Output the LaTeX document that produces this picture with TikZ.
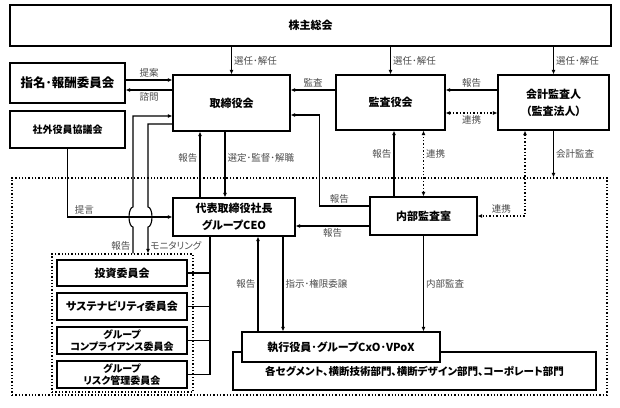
\documentclass[tikz,border=0pt]{standalone}
\usepackage{fontspec}
\setmainfont{Noto Sans CJK JP}[RawFeature=+palt]
\usetikzlibrary{arrows.meta,positioning}

\begin{document}
\begin{tikzpicture}[
    x=1pt, y=-1pt,
    box/.style={rectangle, draw, line width=1.2pt, fill=white, inner sep=1pt, align=center, font=\fontsize{11}{15}\selectfont\bfseries},
    smallbox/.style={box, font=\fontsize{10}{12}\selectfont\bfseries, inner sep=0pt},
    lbl/.style={font=\fontsize{9.5}{10}\selectfont, text=black!70, inner sep=2pt},
    arr/.style={line width=1.1pt, -{Latex[length=4.5pt,width=4pt]}},
    link/.style={line width=1.4pt, dotted, {Latex[length=4.5pt,width=4pt]}-{Latex[length=4.5pt,width=4pt]}},
    plain/.style={line width=1.1pt},
    frame/.style={rectangle, draw, dotted, line width=1.3pt, inner sep=0pt}
  ]
    \useasboundingbox (0,0) rectangle (620,407);

    % Frames
    \node[frame, minimum width=595pt, minimum height=217pt] (grp) at (309.5,286.5) {};
    \node[frame, minimum width=141pt, minimum height=138pt] (cmt) at (122.5,323) {};

    % Nodes
    \node[box, minimum width=601pt, minimum height=41pt] (gm) at (310.5,25.5) {株主総会};
    \node[box, minimum width=115pt, minimum height=40pt, font=\fontsize{12.5}{14}\selectfont\bfseries] (nom) at (67.5,83) {指名･報酬委員会};
    \node[box, minimum width=115pt, minimum height=37pt, font=\fontsize{10}{12}\selectfont\bfseries] (ext) at (67.5,129.5) {社外役員協議会};
    \node[box, minimum width=117pt, minimum height=56pt] (board) at (231.5,103) {取締役会};
    \node[box, minimum width=109pt, minimum height=55pt] (kansa) at (390.5,102.5) {監査役会};
    \node[box, minimum width=111pt, minimum height=55pt, font=\fontsize{11}{17}\selectfont\bfseries] (audit) at (553.5,102.5) {会計監査人\\（監査法人）};
    \node[box, minimum width=122pt, minimum height=38pt, font=\fontsize{11}{17}\selectfont\bfseries] (ceo) at (234,217) {代表取締役社長\\グループCEO};
    \node[box, minimum width=107pt, minimum height=38pt] (iad) at (423.5,216) {内部監査室};

    \node[box, minimum width=130pt, minimum height=26pt] (inv) at (122,273) {投資委員会};
    \node[box, minimum width=130pt, minimum height=27pt] (sus) at (122,306.5) {サステナビリティ委員会};
    \node[smallbox, minimum width=130pt, minimum height=27pt] (comp) at (122,340.5) {グループ\\コンプライアンス委員会};
    \node[smallbox, minimum width=130pt, minimum height=27pt] (risk) at (122,374.5) {グループ\\リスク管理委員会};

    \node[box, minimum width=363pt, minimum height=38pt, font=\fontsize{10.5}{12}\selectfont\bfseries] (seg) at (414.5,371) {各セグメント、横断技術部門、横断デザイン部門、コーポレート部門};
    \node[box, minimum width=198pt, minimum height=30pt] (exec) at (341,347) {執行役員･グループCxO･VPoX};

    % Arrows
    \foreach \n in {board,kansa,audit}
      \draw[arr] (gm.south -| \n.north) -- node[lbl, right]{選任･解任} (\n.north);

    \draw[arr] ([yshift=3pt]nom.east) -- node[lbl, above]{提案} ([yshift=3pt]nom.east -| board.west);
    \draw[arr] ([yshift=13pt]board.west) -- node[lbl, below]{諮問} ([yshift=13pt]board.west -| nom.east);
    \draw[arr] ([yshift=12.5pt]kansa.west) -- node[lbl, above]{監査} ([yshift=12.5pt]kansa.west -| board.east);
    \draw[arr] ([yshift=12.5pt]audit.west) -- node[lbl, above]{報告} ([yshift=12.5pt]audit.west -| kansa.east);
    \draw[link] ([yshift=-10.5pt]kansa.east) -- node[lbl, below]{連携} ([yshift=-10.5pt]kansa.east -| audit.west);

    \draw[arr] ([xshift=-34pt]ceo.north) -- node[lbl, left, pos=0.6]{報告} ([xshift=-34pt]ceo.north |- board.south);
    \draw[arr] ([xshift=-9pt]ceo.north |- board.south) -- node[lbl, right, pos=0.4]{選定･監督･解職} ([xshift=-9pt]ceo.north);

    \draw[arr] ([xshift=-29.5pt]iad.north) -- node[lbl, left, pos=0.65]{報告} ([xshift=-29.5pt]iad.north |- kansa.south);
    \draw[link] (iad.north) -- node[lbl, right, pos=0.65]{連携} (iad.north |- kansa.south);
    \draw[arr] ([yshift=10pt]iad.west) -- node[lbl, above, pos=0.6]{報告} ++(-50,0) |- ([yshift=-12pt]board.east);
    \draw[arr] ([yshift=-10pt]iad.west) -- node[lbl, below]{報告} ([yshift=-10pt]iad.west -| ceo.east);

    \draw[arr] (audit.south) -- node[lbl, right]{会計監査} (audit.south |- grp.north);
    \draw[link] ([xshift=-28.5pt]audit.south) |- node[lbl, above, pos=0.75]{連携} (iad.east);
    \draw[arr] (iad.south) -- node[lbl, right]{内部監査} (iad.south |- exec.north);

    \draw[arr] ([xshift=24pt]ceo.south |- exec.north) -- node[lbl, left]{報告} ([xshift=24pt]ceo.south);
    \draw[arr] ([xshift=49pt]ceo.south) -- node[lbl, right]{指示･権限委譲} ([xshift=49pt]ceo.south |- exec.north);

    \draw[arr] (ext.south) |- node[lbl, above, pos=0.58]{提言} (ceo.west);

    % Committees
    \coordinate (cb) at ([xshift=-24pt]ceo.south);
    \draw[plain] (cb) |- (risk.east);
    \foreach \c in {inv,sus,comp}
      \draw[plain] (\c.east) -- (\c.east -| cb);

    \coordinate (rx) at (133,217);
    \coordinate (mx) at (148,217);
    \draw[arr] (cmt.north -| rx) -- node[lbl, left, pos=0.3]{報告} ([yshift=-10pt]rx)
      arc[start angle=270, end angle=90, x radius=4pt, y radius=10pt] |- ([yshift=-13pt]board.west);
    \draw[arr] ([yshift=-21pt]board.west) -| ([yshift=10pt]mx)
      arc[start angle=90, end angle=-90, x radius=4pt, y radius=10pt] -- node[lbl, right, pos=0.7]{モニタリング} (cmt.north -| mx);
  \end{tikzpicture}
\end{document}
